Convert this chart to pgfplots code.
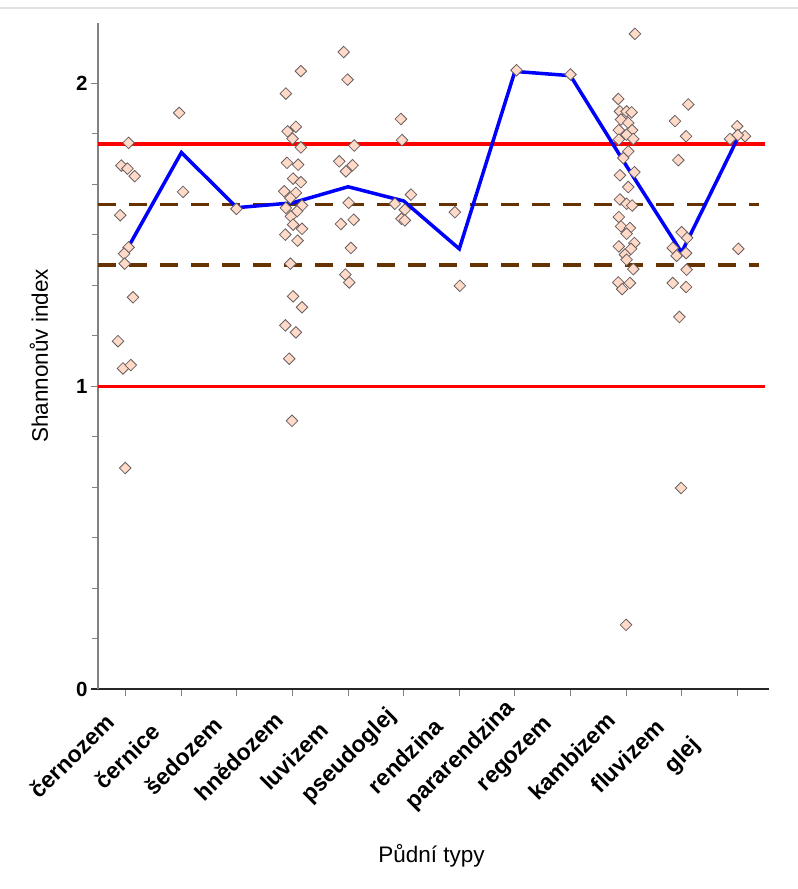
\documentclass[border=0pt]{standalone}
\usepackage{pgfplots}
\pgfplotsset{compat=1.18}
\usepackage{pgfplotstable}
\usepackage{fontspec}
\setmainfont{Liberation Sans}
\definecolor{ptfill}{RGB}{255,218,200}
\definecolor{ptdraw}{RGB}{105,95,95}
\definecolor{brownd}{RGB}{102,51,0}
\definecolor{axgray}{RGB}{130,130,130}
\definecolor{topgray}{RGB}{226,226,226}

\pgfplotstableread{
x y
0.05 1.804
-0.08 1.729
0.03 1.719
0.16 1.694
-0.10 1.565
0.05 1.459
-0.03 1.438
-0.02 1.405
0.13 1.294
-0.14 1.149
-0.05 1.059
0.09 1.070
-0.01 0.730
0.96 1.903
1.03 1.642
1.99 1.586
3.15 2.041
2.88 1.967
3.06 1.857
2.91 1.842
3.00 1.818
3.15 1.789
2.90 1.738
3.10 1.732
3.01 1.686
3.15 1.674
2.85 1.644
3.06 1.639
2.96 1.622
2.88 1.589
3.17 1.597
3.08 1.578
2.97 1.561
3.01 1.534
3.17 1.520
2.87 1.501
3.09 1.481
2.96 1.405
3.01 1.297
3.17 1.261
2.87 1.201
3.06 1.178
2.94 1.091
2.99 0.886
3.92 2.104
3.99 2.013
4.11 1.795
3.84 1.743
4.08 1.730
3.96 1.710
4.01 1.606
3.87 1.536
4.10 1.550
4.05 1.457
3.95 1.369
4.02 1.343
4.95 1.883
4.97 1.813
5.13 1.633
4.84 1.603
5.02 1.583
4.96 1.553
5.02 1.548
5.92 1.575
6.01 1.332
7.03 2.044
8.00 2.030
8.86 1.949
8.89 1.908
9.01 1.908
9.10 1.905
8.91 1.881
9.04 1.870
8.87 1.846
9.11 1.846
9.01 1.831
8.87 1.815
9.13 1.817
9.04 1.776
8.95 1.754
9.15 1.707
8.89 1.697
9.04 1.658
8.89 1.617
9.01 1.603
9.11 1.597
8.87 1.559
8.91 1.528
9.07 1.523
9.01 1.504
9.15 1.473
8.87 1.462
8.98 1.435
9.09 1.454
9.01 1.418
9.13 1.387
8.86 1.343
8.93 1.321
9.07 1.341
9.16 2.164
9.00 0.212
10.12 1.931
9.88 1.876
10.08 1.826
9.94 1.747
10.00 1.509
10.10 1.490
9.84 1.457
9.91 1.431
10.08 1.440
10.09 1.385
9.84 1.341
10.08 1.328
9.96 1.229
9.99 0.664
11.00 1.859
10.87 1.817
11.14 1.826
11.01 1.830
11.02 1.454
}\pts

\pgfplotstableread{
x y
0 1.445
1 1.772
2 1.590
3 1.606
4 1.659
5 1.612
6 1.454
7 2.040
8 2.026
9 1.730
10 1.442
11 1.816
}\means

\begin{document}
\begin{tikzpicture}
\useasboundingbox (-98bp,-200bp) rectangle (700bp,689bp);
\draw[line width=1.5bp, topgray] (-98bp,681bp) -- (700bp,681bp);
\begin{axis}[
  at={(0,0)}, anchor=south west,
  scale only axis, width=667bp, height=666bp,
  xmin=-0.5, xmax=11.5, ymin=0, ymax=2.2,
  axis x line*=bottom, axis y line*=left,
  x axis line style={black!85, line width=1.2bp, shorten <=-7bp, shorten >=-4bp},
  y axis line style={axgray, line width=1.2bp},
  xtick={0,...,11},
  xticklabels={černozem,černice,šedozem,hnědozem,luvizem,pseudoglej,rendzina,pararendzina,regozem,kambizem,fluvizem,glej},
  ytick={0,1,2}, minor y tick num=5,
  tick align=outside,
  major tick length=7bp, minor tick length=6bp,
  tick style={axgray, line width=1bp},
  x tick label style={xshift=-54bp, yshift=-60bp, rotate=45, anchor=center, font=\fontsize{23bp}{27bp}\selectfont\bfseries, inner sep=0bp},
  y tick label style={font=\fontsize{20.5bp}{24bp}\selectfont\bfseries},
  /pgf/number format/assume math mode=true,
  xlabel={Půdní typy}, ylabel={Shannonův index},
  label style={font=\fontsize{22.5bp}{27bp}\selectfont},
  xlabel style={at={(axis description cs:0.5,-0.2598)}, anchor=base},
  ylabel style={at={(axis description cs:-0.0885,0.5)}, anchor=center},
]
\addplot[red, line width=3.2bp, forget plot] coordinates {(-0.5,1.8) (11.5,1.8)};
\addplot[red, line width=3.2bp, forget plot] coordinates {(-0.5,1.0) (11.5,1.0)};
\addplot[brownd, line width=3.5bp, dash pattern=on 18bp off 13bp, forget plot] coordinates {(-0.5,1.6) (11.4,1.6)};
\addplot[brownd, line width=3.5bp, dash pattern=on 18bp off 13bp, forget plot] coordinates {(-0.5,1.4) (11.4,1.4)};
\addplot[only marks, mark=square*, mark size=4.1bp, mark options={rotate=45, fill=ptfill, draw=ptdraw, line width=0.8bp}] table {\pts};
\addplot[blue, line width=3.5bp, no marks] table {\means};
\end{axis}
\end{tikzpicture}
\end{document}
